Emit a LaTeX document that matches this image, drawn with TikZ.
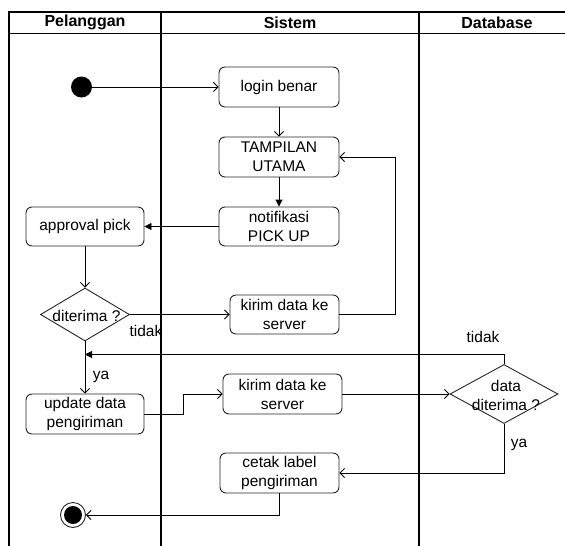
\documentclass[tikz,border=0pt]{standalone}
\usepackage{fontspec}
\setmainfont{Liberation Sans}
\usetikzlibrary{shapes.geometric,arrows.meta}
\begin{document}
\begin{tikzpicture}[x=1pt,y=-1pt,
  act/.style={draw=black!85, line width=0.9pt, rounded corners=6pt, inner sep=0pt, align=center, font=\fontsize{15.5}{19}\selectfont},
  dec/.style={draw=black!85, diamond, line width=0.9pt, inner sep=0pt},
  conn/.style={line width=0.9pt, -{Straight Barb[length=4.5pt,width=9pt]}},
  connf/.style={line width=0.9pt, -{Triangle[length=7pt,width=7pt]}},
  lane/.style={line width=1.4pt},
  hdr/.style={font=\bfseries\fontsize{16}{19}\selectfont, inner sep=0pt},
  lbl/.style={font=\fontsize{15.5}{19}\selectfont, inner sep=0pt, align=center}
]
\useasboundingbox (0,0) rectangle (565,546);
% swimlanes
\draw[lane] (9,546) -- (9,12) -- (565,12);
\draw[line width=1pt] (9,33) -- (565,33);
\draw[lane] (161,12) -- (161,546);
\draw[lane] (419,12) -- (419,546);
\node[hdr] (hp) at (85,22.5) {Pelanggan};
\node[hdr] (hs) at (290,22.5) {Sistem};
\node[hdr] (hd) at (497,22.5) {Database};
% nodes
\node[circle, fill=black, minimum size=21pt, inner sep=0pt] (start) at (81.5,87) {};
\node[act, minimum width=120pt, minimum height=40pt] (login) at (279,87) {login benar};
\node[act, minimum width=120pt, minimum height=40pt] (tampil) at (279,157) {TAMPILAN\\UTAMA};
\node[act, minimum width=120pt, minimum height=39pt] (notif) at (279,226.5) {notifikasi\\PICK UP};
\node[act, minimum width=118pt, minimum height=39pt] (approval) at (85,226.5) {approval pick};
\node[dec, minimum width=89pt, minimum height=53pt] (dit) at (85,314.5) {};
\node[lbl] (ditt) at (86.5,316) {diterima ?};
\node[act, minimum width=109pt, minimum height=39pt] (kirim1) at (284.5,314.5) {kirim data ke\\server};
\coordinate (merge) at (85,354.5);
\node[act, minimum width=118pt, minimum height=40pt] (update) at (85,414) {update data\\pengiriman};
\node[act, minimum width=119pt, minimum height=40pt] (kirim2) at (282.5,394) {kirim data ke\\server};
\node[dec, minimum width=108pt, minimum height=59pt] (ddit) at (504,394) {};
\node[lbl] (dditt) at (506,395) {data\\diterima ?};
\node[act, minimum width=119pt, minimum height=40pt] (cetak) at (279.5,473) {cetak label\\pengiriman};
\node[circle, draw=black!85, line width=0.9pt, minimum size=25pt, inner sep=0pt] (end) at (73,515) {};
\node[circle, fill=black, minimum size=18pt, inner sep=0pt] (endin) at (73,515) {};
% labels
\node[lbl] (t1) at (146,331) {tidak};
\node[lbl] (y1) at (101,377) {ya};
\node[lbl] (t2) at (483,337) {tidak};
\node[lbl] (y2) at (519,445) {ya};
% connectors
\draw[conn] (start) -- (login);
\draw[conn] (login) -- (tampil);
\draw[connf] (tampil) -- (notif);
\draw[connf] (notif) -- (approval);
\draw[conn] (approval) -- (dit);
\draw[conn] (dit) -- (kirim1);
\draw[conn] (kirim1.east) -- ++(56,0) |- (tampil.east);
\draw[conn] (dit.south) -- (update.north);
\draw[connf] (ddit.north) |- (merge);
\draw[conn] (update.east) -- ++(39,0) |- (kirim2.west);
\draw[conn] (kirim2) -- (ddit);
\draw[conn] (ddit.south) |- (cetak.east);
\draw[conn] (cetak.south) |- (end.east);
\end{tikzpicture}
\end{document}
